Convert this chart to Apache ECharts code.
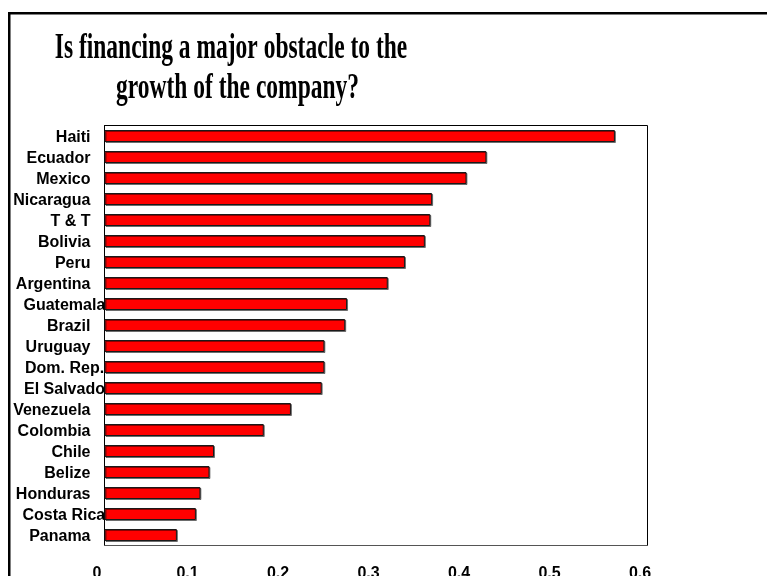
<!DOCTYPE html>
<html>
<head>
<meta charset="utf-8">
<script src="https://cdn.jsdelivr.net/npm/echarts@6/dist/echarts.min.js"></script>
<style>
  html, body { margin: 0; padding: 0; background: #fff; }
  #chart { width: 767px; height: 576px; }
</style>
</head>
<body>
<div id="chart"></div>
<script>
// Share of firms naming financing as a major obstacle to growth, by country
const countries = [
  'Haiti', 'Ecuador', 'Mexico', 'Nicaragua', 'T & T', 'Bolivia', 'Peru',
  'Argentina', 'Guatemala', 'Brazil', 'Uruguay', 'Dom. Rep.', 'El Salvador',
  'Venezuela', 'Colombia', 'Chile', 'Belize', 'Honduras', 'Costa Rica', 'Panama'
];
const shares = [
  0.564, 0.422, 0.400, 0.362, 0.360, 0.354, 0.332,
  0.313, 0.268, 0.266, 0.243, 0.243, 0.240,
  0.206, 0.176, 0.121, 0.116, 0.106, 0.101, 0.080
];
const xTicks = [0, 0.1, 0.2, 0.3, 0.4, 0.5, 0.6];
const titleLines = ['Is financing a major obstacle to the', 'growth of the company?'];

// Long country names start further right and run into the plot edge
const labelFont = { fontFamily: '"Liberation Sans", Arial, sans-serif', fontSize: 16, fontWeight: 'bold', color: '#000' };
const longLabelBox = { 'Guatemala': 'w67', 'Dom. Rep.': 'w65', 'El Salvador': 'w66', 'Costa Rica': 'w68' };
const rich = {
  w65: Object.assign({ width: 65.5, align: 'left' }, labelFont),
  w66: Object.assign({ width: 66.5, align: 'left' }, labelFont),
  w67: Object.assign({ width: 67, align: 'left' }, labelFont),
  w68: Object.assign({ width: 68, align: 'left' }, labelFont)
};

const chart = echarts.init(document.getElementById('chart'), null, { renderer: 'canvas' });

const titleFont = 'bold 23.5px "Liberation Serif", "Times New Roman", serif';

chart.setOption({
  animation: false,
  backgroundColor: '#fff',
  graphic: [
    {
      type: 'rect', z: 0, silent: true,
      shape: { x: 9.25, y: 13.25, width: 900, height: 800 },
      style: { fill: 'none', stroke: '#000', lineWidth: 2.5 }
    },
    {
      type: 'text', x: 231, y: 49, scaleY: 1.52,
      style: { text: titleLines[0], font: titleFont, fill: '#000', textAlign: 'center', textVerticalAlign: 'middle' }
    },
    {
      type: 'text', x: 237.5, y: 89, scaleY: 1.52,
      style: { text: titleLines[1], font: titleFont, fill: '#000', textAlign: 'center', textVerticalAlign: 'middle' }
    }
  ],
  grid: {
    left: 104.5, top: 125.5, width: 543, height: 420,
    outerBoundsMode: 'none',
    containLabel: false,
    show: true, borderColor: '#000', borderWidth: 1, backgroundColor: 'transparent'
  },
  xAxis: {
    type: 'value',
    min: xTicks[0], max: xTicks[xTicks.length - 1], interval: 0.1,
    axisLine: { show: true, lineStyle: { color: '#555', width: 1 } },
    axisTick: { show: false },
    splitLine: { show: false },
    axisLabel: Object.assign({
      margin: 20,
      padding: [0, 15, 0, 0],
      formatter: (v) => String(Math.round(v * 10) / 10)
    }, labelFont)
  },
  yAxis: {
    type: 'category',
    inverse: true,
    data: countries,
    axisLine: { show: true, lineStyle: { color: '#000', width: 1 } },
    axisTick: { show: false },
    splitLine: { show: false },
    axisLabel: Object.assign({
      interval: 0,
      margin: 14,
      padding: [4, 0, 0, 0],
      rich: rich,
      formatter: (v) => longLabelBox[v] ? '{' + longLabelBox[v] + '|' + v + '}' : v
    }, labelFont)
  },
  series: [{
    type: 'bar',
    data: shares,
    barWidth: 12,
    itemStyle: {
      color: '#ff0000',
      borderColor: '#1a1a1a',
      borderWidth: 1,
      shadowColor: 'rgba(0,0,0,0.45)',
      shadowOffsetX: 1,
      shadowOffsetY: 1,
      shadowBlur: 0
    }
  }]
});
</script>
</body>
</html>
